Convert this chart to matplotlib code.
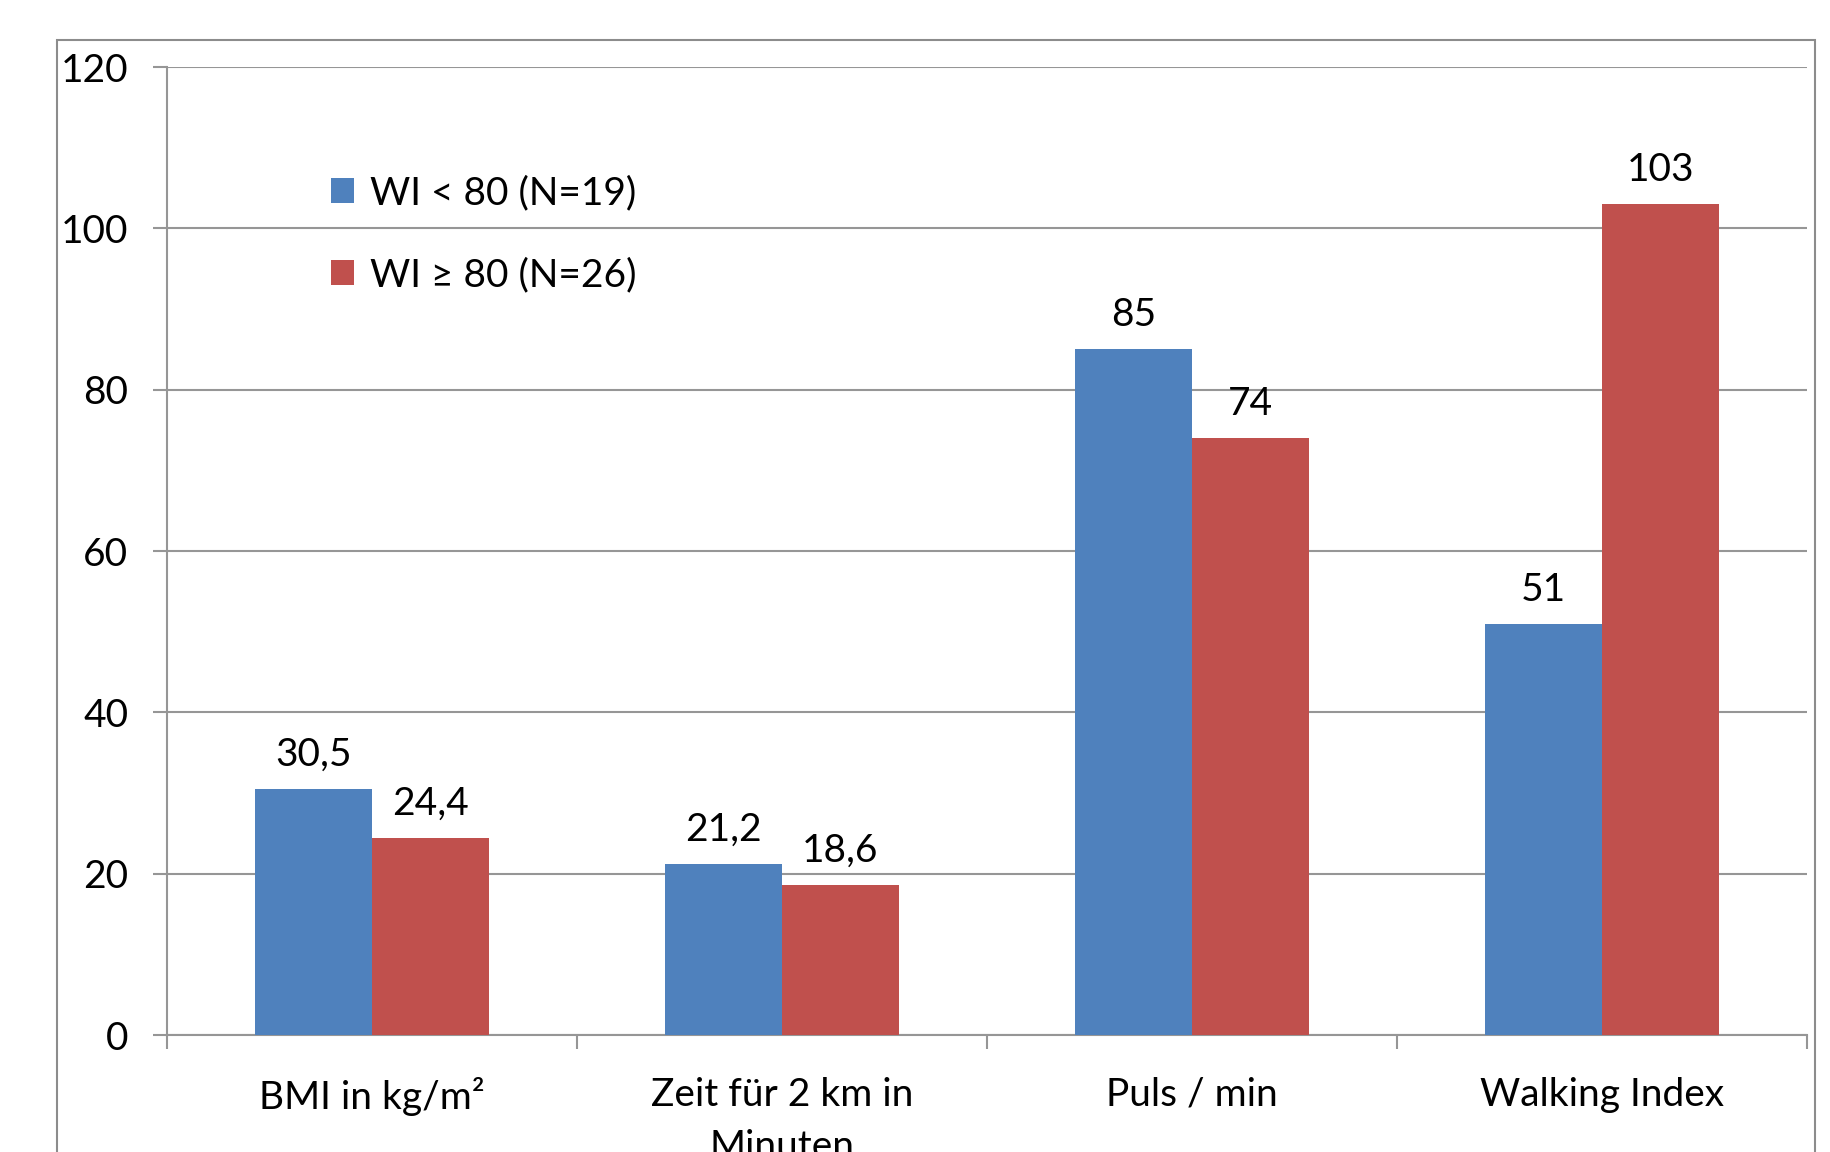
import matplotlib
matplotlib.use('Agg')
import matplotlib.pyplot as plt
from matplotlib.patches import Rectangle
import numpy as np

plt.rcParams['font.family'] = ['Lato', 'DejaVu Sans']

categories = ['BMI in kg/m²', 'Zeit für 2 km in\nMinuten', 'Puls / min', 'Walking Index']
series_names = ['WI < 80 (N=19)', 'WI ≥ 80 (N=26)']
low_wi = [30.5, 21.2, 85, 51]
high_wi = [24.4, 18.6, 74, 103]
yticks = [0, 20, 40, 60, 80, 100, 120]

blue = '#4F81BD'
red = '#C0504D'
grid_grey = '#969696'
fs = 28

W, H = 1830, 1152
fig = plt.figure(figsize=(W / 100, H / 100), dpi=100)

# outer chart-area frame (runs off the bottom of the image)
fig.patches.append(Rectangle((57 / W, -0.05), (1815 - 57) / W, (H - 40) / H + 0.05,
                             transform=fig.transFigure, fill=False,
                             edgecolor='#8c8c8c', linewidth=1.5, clip_on=False))

ax = fig.add_axes([167 / W, (H - 1035) / H, (1807 - 167) / W, (1035 - 67) / H])

x = np.arange(len(categories))
bw = 0.285
b1 = ax.bar(x - bw / 2, low_wi, bw, color=blue, label=series_names[0], zorder=3)
b2 = ax.bar(x + bw / 2, high_wi, bw, color=red, label=series_names[1], zorder=3)


def fmt(v):
    return ('%g' % v).replace('.', ',')


for bars, vals in ((b1, low_wi), (b2, high_wi)):
    for b, v in zip(bars, vals):
        ax.annotate(fmt(v), (b.get_x() + b.get_width() / 2, v),
                    xytext=(0, 16), textcoords='offset pixels',
                    ha='center', va='bottom', fontsize=fs)

ax.set_xlim(-0.5, len(categories) - 0.5)
ax.set_ylim(0, 120)
ax.set_yticks(yticks)
ax.set_yticklabels([str(t) for t in yticks], fontsize=fs)
ax.yaxis.grid(True, color=grid_grey, linewidth=1.5, zorder=0)
ax.set_axisbelow(True)

ax.set_xticks(x)
ax.set_xticklabels(categories, fontsize=fs, linespacing=1.55)
ax.set_xticks(np.arange(len(categories) + 1) - 0.5, minor=True)
ax.tick_params(axis='x', which='major', length=0, pad=30)
ax.tick_params(axis='x', which='minor', length=10, width=1.5, color=grid_grey, direction='out')
ax.tick_params(axis='y', length=10, width=1.5, color=grid_grey, pad=18)

for s in ('top', 'right'):
    ax.spines[s].set_visible(False)
for s in ('left', 'bottom'):
    ax.spines[s].set_color(grid_grey)
    ax.spines[s].set_linewidth(1.5)

leg = ax.legend(loc='upper left', bbox_to_anchor=(0.1, 0.888), frameon=False,
                fontsize=fs, handlelength=0.6, handleheight=0.6,
                handletextpad=0.4, labelspacing=1.18, borderpad=0, borderaxespad=0)

fig.savefig('out.png', dpi=100)
